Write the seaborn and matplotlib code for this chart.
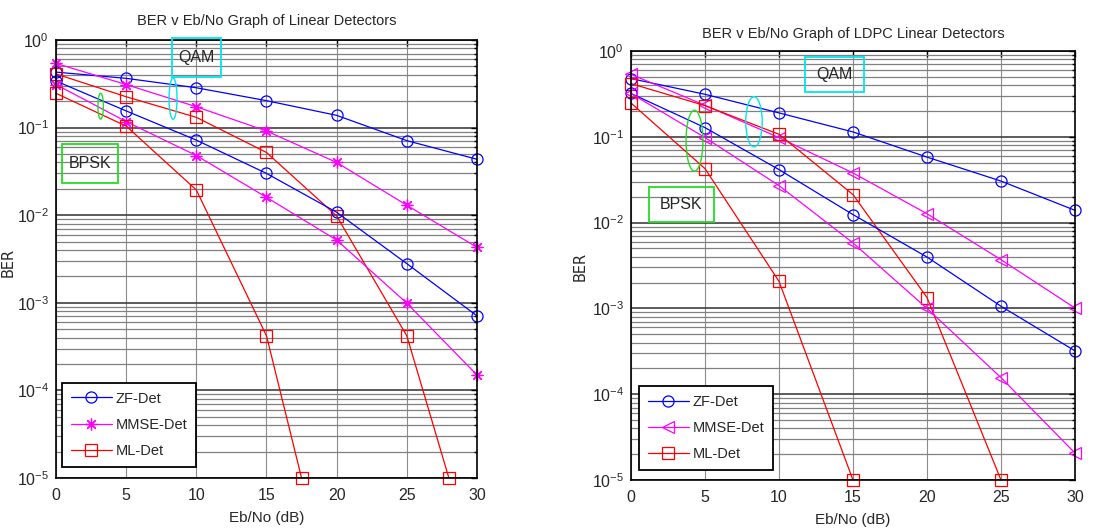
import numpy as np
import pandas as pd
import matplotlib
matplotlib.use("Agg")
import matplotlib.pyplot as plt
from matplotlib.patches import Ellipse, Rectangle
from matplotlib.ticker import LogLocator, FixedLocator, LogFormatterMathtext
import seaborn as sns

# ---------------- data ----------------
snr = [0, 5, 10, 15, 20, 25, 30]

# uncoded detectors
zf_qam = [0.43, 0.365, 0.285, 0.203, 0.138, 0.071, 0.0435]
zf_bpsk = [0.34, 0.155, 0.072, 0.030, 0.0108, 0.0028, 7.1e-4]
mmse_qam = [0.54, 0.31, 0.173, 0.0915, 0.040, 0.013, 0.0043]
mmse_bpsk = [0.31, 0.117, 0.048, 0.016, 0.0052, 9.9e-4, 1.5e-4]
ml_qam_snr = [0, 5, 10, 15, 20, 25, 28]
ml_qam = [0.41, 0.225, 0.131, 0.052, 0.0098, 4.2e-4, 1e-5]
ml_bpsk_snr = [0, 5, 10, 15, 17.5]
ml_bpsk = [0.246, 0.104, 0.0194, 4.2e-4, 1e-5]

# LDPC-coded detectors
ldpc_zf_qam = [0.477, 0.313, 0.19, 0.114, 0.058, 0.0305, 0.0139]
ldpc_zf_bpsk = [0.32, 0.128, 0.0415, 0.0124, 0.00397, 1.06e-3, 3.2e-4]
ldpc_mmse_qam = [0.535, 0.233, 0.098, 0.0379, 0.0127, 0.0037, 1.01e-3]
ldpc_mmse_bpsk = [0.32, 0.098, 0.027, 0.0058, 1.0e-3, 1.56e-4, 2.06e-5]
ldpc_ml_qam_snr = [0, 5, 10, 15, 20, 25]
ldpc_ml_qam = [0.417, 0.231, 0.107, 0.0212, 1.34e-3, 1e-5]
ldpc_ml_bpsk_snr = [0, 5, 10, 15]
ldpc_ml_bpsk = [0.248, 0.0426, 2.07e-3, 1e-5]

titles = ["BER v Eb/No Graph of Linear Detectors",
          "BER v Eb/No Graph of LDPC Linear Detectors"]
legend_labels = ["ZF-Det", "MMSE-Det", "ML-Det"]

# ---------------- style ----------------
sns.set_theme(style="white")
FONT = ["Liberation Sans", "DejaVu Sans"]
plt.rcParams["font.family"] = FONT
plt.rcParams["mathtext.fontset"] = "custom"
plt.rcParams["mathtext.rm"] = "Liberation Sans"
plt.rcParams["mathtext.it"] = "Liberation Sans"
plt.rcParams["axes.unicode_minus"] = True

BLUE, MAG, RED = "#0000ff", "#ff00ff", "#ff0000"

fig = plt.figure(figsize=(11.01, 5.32), dpi=100)
fig.patch.set_facecolor("white")
ax1 = fig.add_axes([0.0509, 0.1015, 0.3823, 0.8233])
ax2 = fig.add_axes([0.5731, 0.0977, 0.4033, 0.8064])


def draw(ax, x, y, color, marker, label=None, ms=8):
    df = pd.DataFrame({"snr": x, "ber": y})
    sns.lineplot(data=df, x="snr", y="ber", ax=ax, color=color, lw=0.9,
                 marker=marker, markersize=ms, markerfacecolor="none",
                 markeredgecolor=color, markeredgewidth=0.9,
                 label=label, clip_on=False, legend=False)


AST = (8, 2, 0)

# left: uncoded
draw(ax1, snr, zf_qam, BLUE, "o", legend_labels[0])
draw(ax1, snr, mmse_qam, MAG, AST, legend_labels[1], ms=8.5)
draw(ax1, ml_qam_snr, ml_qam, RED, "s")
draw(ax1, snr, zf_bpsk, BLUE, "o")
draw(ax1, snr, mmse_bpsk, MAG, AST, ms=8.5)
draw(ax1, ml_bpsk_snr, ml_bpsk, RED, "s", legend_labels[2])

# right: LDPC coded
draw(ax2, snr, ldpc_zf_qam, BLUE, "o", legend_labels[0])
draw(ax2, snr, ldpc_mmse_qam, MAG, "<", legend_labels[1], ms=8.5)
draw(ax2, ldpc_ml_qam_snr, ldpc_ml_qam, RED, "s")
draw(ax2, snr, ldpc_zf_bpsk, BLUE, "o")
draw(ax2, snr, ldpc_mmse_bpsk, MAG, "<", ms=8.5)
draw(ax2, ldpc_ml_bpsk_snr, ldpc_ml_bpsk, RED, "s", legend_labels[2])

for ax in (ax1, ax2):
    ax.set_yscale("log")
    ax.set_xlim(0, 30)
    ax.set_ylim(1e-5, 1)
    ax.set_facecolor("white")
    ax.xaxis.set_major_locator(FixedLocator(snr))
    ax.yaxis.set_major_locator(LogLocator(base=10, numticks=10))
    ax.yaxis.set_minor_locator(LogLocator(base=10, subs=np.arange(2, 10), numticks=10))
    ax.yaxis.set_major_formatter(LogFormatterMathtext())
    ax.tick_params(which="both", direction="in", top=True, right=True,
                   color="black", width=1.0, labelsize=11.5)
    ax.tick_params(axis="x", pad=7)
    ax.tick_params(axis="y", pad=5)
    ax.tick_params(which="major", length=4)
    ax.tick_params(which="minor", length=2.5)
    ax.grid(True, which="major", axis="x", color="0.55", lw=0.8)
    ax.grid(True, which="major", axis="y", color="0.25", lw=1.2)
    ax.grid(True, which="minor", axis="y", color="0.5", lw=0.9)
    ax.set_axisbelow(True)
    for sp in ax.spines.values():
        sp.set_visible(True)
        sp.set_color("black")
        sp.set_linewidth(1.2)
    ax.set_xlabel("Eb/No (dB)", fontsize=11, labelpad=6)
    ax.set_ylabel("BER", fontsize=10.5, family=["DejaVu Sans"])

ax1.set_title(titles[0], fontsize=10.5, y=1.034, pad=0)
ax2.set_title(titles[1], fontsize=10.5, y=1.030, pad=0)
ax1.yaxis.set_label_coords(-0.097, 0.493)
ax2.yaxis.set_label_coords(-0.097, 0.499)


# annotation boxes and ellipses (axes fraction coordinates)
def box(ax, x0, y0, x1, y1, color, text):
    ax.add_patch(Rectangle((x0, y0), x1 - x0, y1 - y0, transform=ax.transAxes,
                           fill=False, edgecolor=color, lw=1.3, clip_on=False, zorder=5))
    ax.text((x0 + x1) / 2, (y0 + y1) / 2, text, transform=ax.transAxes,
            ha="center", va="center", fontsize=11.5, zorder=6)


def oval(ax, cx, cy, w, h, color):
    ax.add_patch(Ellipse((cx, cy), w, h, transform=ax.transAxes, fill=False,
                         edgecolor=color, lw=1.0, zorder=5))


box(ax1, 0.2755, 0.9155, 0.392, 1.005, "#00e5ee", "QAM")
box(ax1, 0.014, 0.674, 0.147, 0.763, "#22dd22", "BPSK")
oval(ax1, 0.106, 0.849, 0.013, 0.059, "#22dd22")
oval(ax1, 0.278, 0.866, 0.019, 0.094, "#00e5ee")

box(ax2, 0.392, 0.904, 0.525, 0.986, "#00e5ee", "QAM")
box(ax2, 0.0405, 0.601, 0.187, 0.683, "#22dd22", "BPSK")
oval(ax2, 0.143, 0.791, 0.038, 0.142, "#22dd22")
oval(ax2, 0.277, 0.835, 0.037, 0.117, "#00e5ee")

for ax, anchor in ((ax1, (0.014, 0.025)), (ax2, (0.018, 0.023))):
    leg = ax.legend(loc="lower left", bbox_to_anchor=anchor, borderaxespad=0,
                    fontsize=10.5, handlelength=2.8, handletextpad=0.3,
                    labelspacing=0.85, borderpad=0.6, fancybox=False,
                    framealpha=1, edgecolor="black")
    leg.get_frame().set_linewidth(1.3)

fig.savefig("out.png", dpi=100, facecolor="white")
